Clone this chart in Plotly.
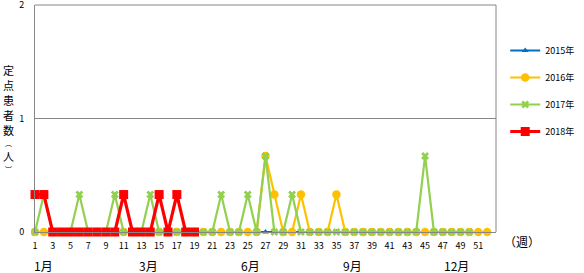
import plotly.graph_objects as go

weeks = list(range(1, 54))
tick_vals = list(range(1, 52, 2))

def series(n, peaks):
    return [peaks.get(w, 0) for w in range(1, n + 1)]

y2015 = series(52, {})
y2016 = series(52, {27: 0.67, 28: 0.33, 31: 0.33, 35: 0.33})
y2017 = series(50, {2: 0.33, 6: 0.33, 10: 0.33, 14: 0.33, 22: 0.33, 25: 0.33,
                    27: 0.67, 30: 0.33, 45: 0.67})
y2018 = series(19, {1: 0.33, 2: 0.33, 11: 0.33, 15: 0.33, 17: 0.33})

month_labels = ["1月", "3月", "6月", "9月", "12月"]
month_weeks = [2, 13.8, 25.3, 36.8, 48.6]
ytitle_chars = list("定点患者数︵人︶")

FONT = "Noto Sans CJK JP"
W, H = 584, 273
L, R, T, B = 35, 88, 5, 41
PH = H - T - B
PW = W - L - R

def py2paper(py):
    return (H - B - py) / PH

def px2paper(px):
    return (px - L) / PW

fig = go.Figure()
specs = [
    ("2015年", y2015, "#0070C0", "triangle-up", 6, 2.2),
    ("2016年", y2016, "#FFC000", "circle", 8.5, 2.2),
    ("2017年", y2017, "#92D050", "x", 7, 2.2),
    ("2018年", y2018, "#FF0000", "square", 9, 3.2),
]
for name, ys, col, sym, ms, lw in specs:
    fig.add_trace(go.Scatter(
        x=weeks[:len(ys)], y=ys, name=name, mode="lines+markers",
        legendgroup=name,
        line=dict(color=col, width=lw),
        marker=dict(color=col, symbol=sym, size=ms, line=dict(width=0)),
        cliponaxis=False,
    ))

for lab, w in zip(month_labels, month_weeks):
    fig.add_annotation(x=w, y=py2paper(265), yref="paper", xref="x", text=lab,
                       showarrow=False, font=dict(size=12, family=FONT, color="#000"),
                       xanchor="center", yanchor="middle")

fig.add_annotation(x=px2paper(522), y=py2paper(241), xref="paper", yref="paper", text="（週）",
                   showarrow=False, font=dict(size=12, family=FONT, color="#000"),
                   xanchor="center", yanchor="middle")

ypix = [70, 85, 100, 115, 130, 143, 156, 169]
for ch, py in zip(ytitle_chars, ypix):
    sz = 7 if ch in "︵︶" else 11
    fig.add_annotation(x=px2paper(8), xref="paper", y=py2paper(py), yref="paper",
                       text=ch, showarrow=False, borderpad=0,
                       font=dict(size=sz, family=FONT, color="#000"),
                       xanchor="center", yanchor="middle")

fig.update_layout(
    width=W, height=H,
    margin=dict(l=L, r=R, t=T, b=B, autoexpand=False),
    paper_bgcolor="white", plot_bgcolor="white",
    font=dict(family=FONT, size=9, color="#000"),
    showlegend=True,
    legend=dict(x=1.02, y=py2paper(36), xanchor="left", yanchor="top",
                font=dict(size=9, family=FONT), tracegroupgap=8,
                itemwidth=30, bgcolor="rgba(0,0,0,0)"),
    xaxis=dict(range=[1, 53], tickvals=tick_vals, ticktext=[str(v) for v in tick_vals],
               showgrid=False, zeroline=False, showline=True, linecolor="#868686",
               linewidth=1, ticks="", tickfont=dict(size=9), ticklabelstandoff=5,
               automargin=False),
    yaxis=dict(range=[0, 2], tickvals=[0, 1, 2], showgrid=True, gridcolor="#868686",
               gridwidth=1, zeroline=False, showline=True, linecolor="#868686",
               ticks="", tickfont=dict(size=9), ticklabelstandoff=8,
               ticklabeloverflow="allow", automargin=False),
)
fig.add_shape(type="line", xref="paper", yref="paper", x0=1, x1=1, y0=0, y1=1,
              line=dict(color="#868686", width=1))
fig.add_shape(type="line", xref="paper", yref="paper", x0=0, x1=1, y0=1, y1=1,
              line=dict(color="#868686", width=1))

fig.write_html("out.html")
